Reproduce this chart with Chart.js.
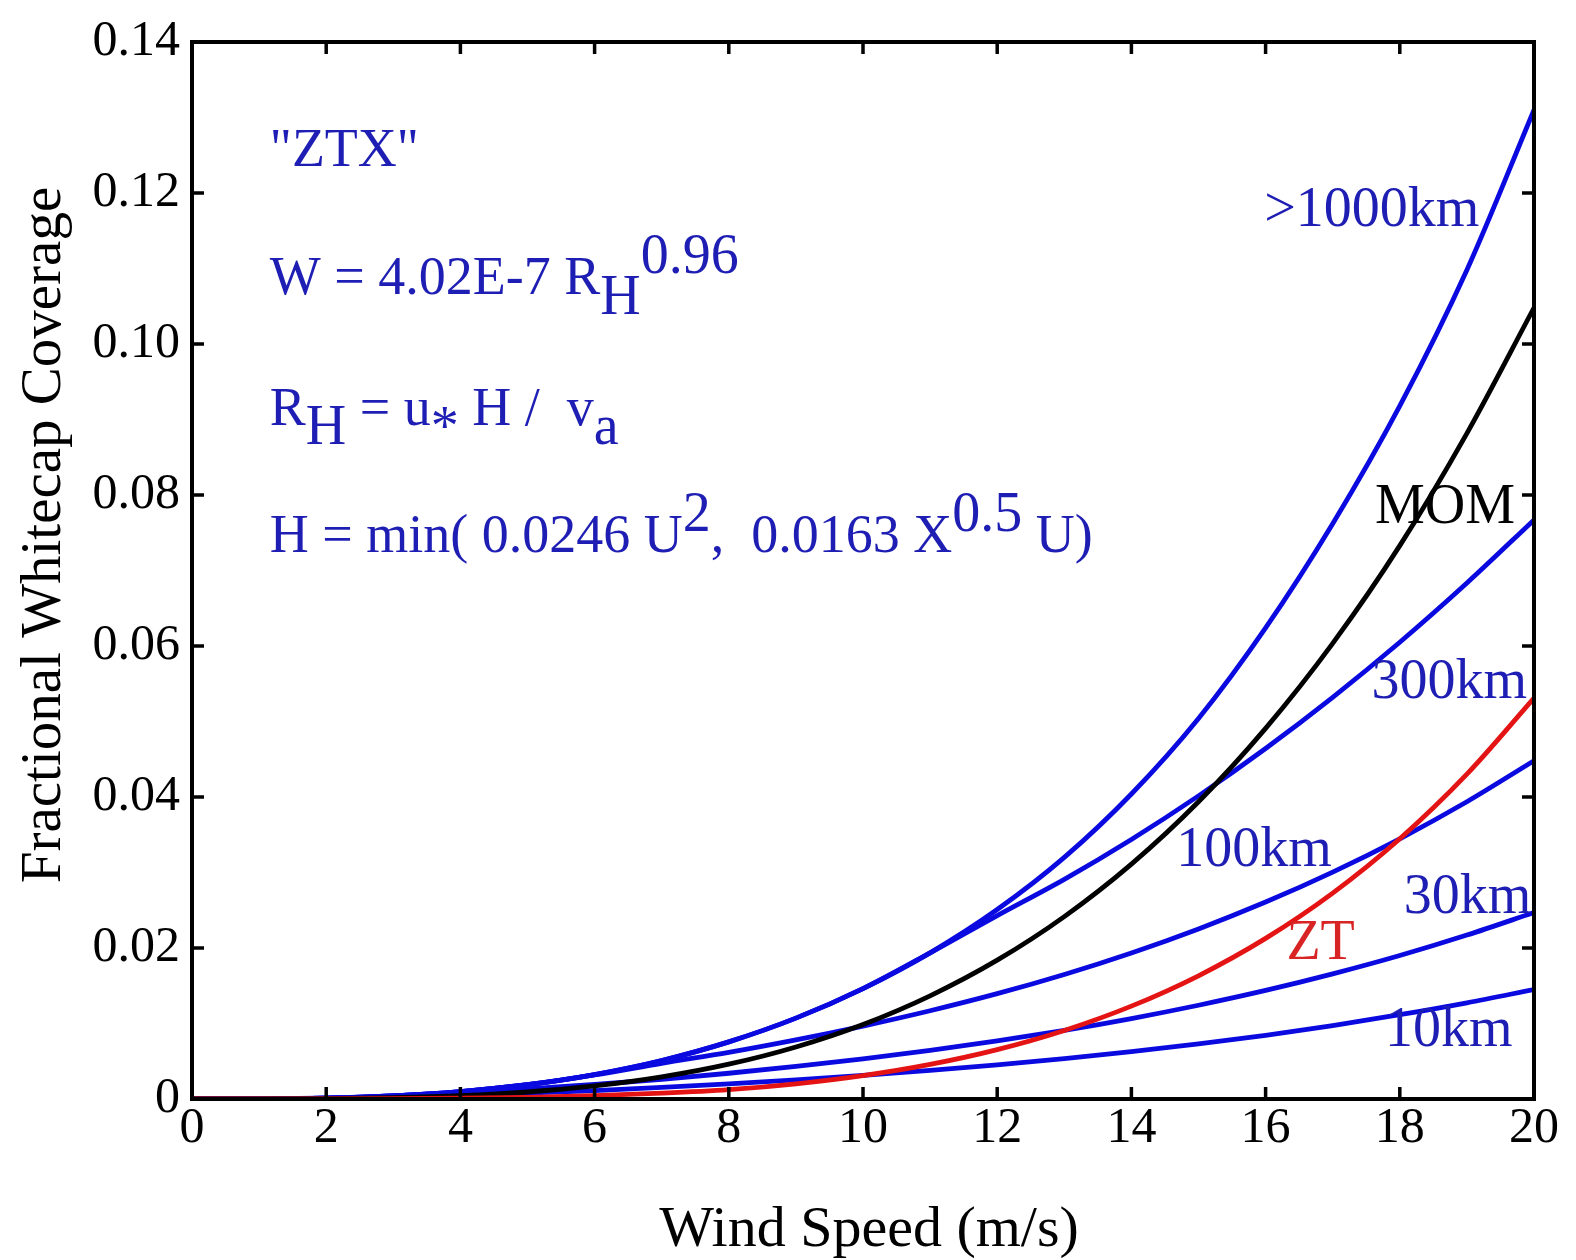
<!DOCTYPE html>
<html>
<head>
<meta charset="utf-8">
<script src="https://cdn.jsdelivr.net/npm/chart.js@4.4.1/dist/chart.umd.min.js"></script>
<style>
  html, body { margin: 0; padding: 0; background: #ffffff; }
  canvas { display: block; }
</style>
</head>
<body>
<canvas id="c" width="1576" height="1260"></canvas>
<script>
// ---- data ----
const windSpeed = [0,1,2,3,4,5,6,7,8,9,10,11,12,13,14,15,16,17,18,19,20];
const xTicks = [0,2,4,6,8,10,12,14,16,18,20];
const yTicks = [0,0.02,0.04,0.06,0.08,0.10,0.12,0.14];

const fetch1000km = [0,0.0000164,0.000127,0.000419,0.00098,0.00189,0.00324,0.0051,0.00757,0.01071,0.01462,0.01936,0.02509,0.0320,0.0404,0.0504,0.0624,0.0762,0.0918,0.1098,0.131];
const fetch300km  = [0,0.0000164,0.000127,0.000419,0.00098,0.00189,0.00324,0.0051,0.00757,0.01071,0.01462,0.01936,0.0243,0.0291,0.03438,0.04015,0.04643,0.05321,0.0605,0.06834,0.0767];
const fetch100km  = [0,0.0000164,0.000127,0.000419,0.00098,0.00189,0.00318,0.00473,0.00618,0.00783,0.00966,0.01169,0.01395,0.01649,0.01934,0.02253,0.02609,0.03006,0.03447,0.03937,0.0448];
const fetch30km   = [0,0.0000164,0.000127,0.000419,0.000851,0.00133,0.00192,0.00261,0.00341,0.00431,0.00532,0.00644,0.00769,0.00909,0.01066,0.01242,0.01438,0.01657,0.0190,0.02171,0.0247];
const fetch10km   = [0,0.0000164,0.000125,0.000281,0.0005,0.00078,0.00112,0.00153,0.0020,0.00253,0.00312,0.00378,0.00451,0.00534,0.00626,0.00729,0.00844,0.00973,0.01116,0.01274,0.0145];
const momValues   = [0,0.0000038,0.0000408,0.000163,0.000434,0.000929,0.00173,0.00293,0.00461,0.00689,0.00987,0.01367,0.01839,0.02416,0.03111,0.03937,0.04909,0.06035,0.07329,0.08817,0.1048];
const ztValues    = [0,0.0000005,0.0000084,0.0000363,0.000102,0.000228,0.00044,0.000767,0.00124,0.00201,0.0031,0.00458,0.00654,0.00908,0.0123,0.01632,0.02127,0.02727,0.03447,0.04303,0.0531];

// ---- styles ----
const BLUE_LINE = '#0a0ae0';
const BLUE_TEXT = '#1e1eb4';
const RED_LINE = '#e41414';
const RED_TEXT = '#d82424';
const SERIF = '"Liberation Serif", "Times New Roman", serif';

const toPts = (ys) => windSpeed.map((x, i) => ({x: x, y: ys[i]}));

function ds(label, ys, color) {
  return {
    label: label, data: toPts(ys), borderColor: color, backgroundColor: color,
    borderWidth: 4.8, pointRadius: 0, fill: false, cubicInterpolationMode: 'monotone'
  };
}

// curve labels placed in data space
const curveLabels = [
  {text: '>1000km', x: 15.98, y: 0.1156, color: BLUE_TEXT},
  {text: 'MOM',     x: 17.63, y: 0.0763, color: '#000000'},
  {text: '300km',   x: 17.58, y: 0.0531, color: BLUE_TEXT},
  {text: '100km',   x: 14.67, y: 0.0309, color: BLUE_TEXT},
  {text: '30km',    x: 18.06, y: 0.0246, color: BLUE_TEXT},
  {text: 'ZT',      x: 16.31, y: 0.0185, color: RED_TEXT},
  {text: '10km',    x: 17.78, y: 0.0070, color: BLUE_TEXT}
];

// formula block (segments with baseline shifts in em)
const formulaX = 1.16;
const formulaLines = [
  {y: 0.1236, segs: [{t: '"ZTX"'}]},
  {y: 0.1066, segs: [{t: 'W = 4.02E-7 R'}, {t: 'H', dy: 0.36}, {t: '0.96', dy: -0.40}]},
  {y: 0.0893, segs: [{t: 'R'}, {t: 'H', dy: 0.36}, {t: ' = u'}, {t: '*', dy: 0.38}, {t: ' H /  v'}, {t: 'a', dy: 0.36}]},
  {y: 0.0724, segs: [{t: 'H = min( 0.0246 U'}, {t: '2', dy: -0.40}, {t: ',  0.0163 X'}, {t: '0.5', dy: -0.40}, {t: ' U)'}]}
];

const decor = {
  id: 'decor',
  afterDatasetsDraw(chart) {
    const ctx = chart.ctx;
    const a = chart.chartArea;
    const xs = chart.scales.x, ys = chart.scales.y;
    ctx.save();
    // frame
    ctx.strokeStyle = '#000';
    ctx.lineWidth = 4;
    ctx.strokeRect(a.left, a.top, a.right - a.left, a.bottom - a.top);
    // inward ticks
    const TL = 12;
    ctx.lineWidth = 3.5;
    ctx.beginPath();
    xTicks.forEach(v => {
      const px = xs.getPixelForValue(v);
      ctx.moveTo(px, a.bottom); ctx.lineTo(px, a.bottom - TL);
      ctx.moveTo(px, a.top); ctx.lineTo(px, a.top + TL);
    });
    yTicks.forEach(v => {
      const py = ys.getPixelForValue(v);
      ctx.moveTo(a.left, py); ctx.lineTo(a.left + TL, py);
      ctx.moveTo(a.right, py); ctx.lineTo(a.right - TL, py);
    });
    ctx.stroke();

    // curve labels
    ctx.font = '56px ' + SERIF;
    ctx.textAlign = 'left';
    ctx.textBaseline = 'alphabetic';
    curveLabels.forEach(l => {
      ctx.fillStyle = l.color;
      ctx.fillText(l.text, xs.getPixelForValue(l.x), ys.getPixelForValue(l.y));
    });

    // formula block
    const fs = 54;
    ctx.fillStyle = BLUE_TEXT;
    formulaLines.forEach(line => {
      let px = xs.getPixelForValue(formulaX);
      const py = ys.getPixelForValue(line.y);
      line.segs.forEach(s => {
        const big = s.dy ? 1.04 : 1;
        ctx.font = Math.round(fs * big) + 'px ' + SERIF;
        ctx.fillText(s.t, px, py + (s.dy || 0) * fs);
        px += ctx.measureText(s.t).width;
      });
    });

    // axis titles
    ctx.fillStyle = '#000';
    ctx.font = '58px ' + SERIF;
    ctx.textAlign = 'center';
    ctx.fillText('Wind Speed (m/s)', 869, 1246);
    ctx.font = '57px ' + SERIF;
    ctx.save();
    ctx.translate(60, 535);
    ctx.rotate(-Math.PI / 2);
    ctx.fillText('Fractional Whitecap Coverage', 0, 0);
    ctx.restore();
    ctx.restore();
  }
};

new Chart(document.getElementById('c'), {
  type: 'line',
  data: {
    datasets: [
      ds('ZT', ztValues, RED_LINE),
      ds('MOM', momValues, '#000000'),
      ds('>1000km', fetch1000km, BLUE_LINE),
      ds('300km', fetch300km, BLUE_LINE),
      ds('100km', fetch100km, BLUE_LINE),
      ds('30km', fetch30km, BLUE_LINE),
      ds('10km', fetch10km, BLUE_LINE)
    ]
  },
  options: {
    responsive: false,
    devicePixelRatio: 1,
    animation: false,
    events: [],
    layout: { padding: { top: 41, right: 42, bottom: 0, left: 0 } },
    plugins: { legend: { display: false }, tooltip: { enabled: false }, title: { display: false } },
    scales: {
      x: {
        type: 'linear', min: 0, max: 20,
        afterFit(s) { s.height = 161; },
        afterBuildTicks(s) { s.ticks = xTicks.map(v => ({value: v})); },
        grid: { display: false, drawTicks: false },
        border: { display: false },
        ticks: { color: '#000', font: { family: SERIF, size: 50 }, padding: 0, maxRotation: 0, autoSkip: false,
                 callback: v => String(v) }
      },
      y: {
        type: 'linear', min: 0, max: 0.14,
        afterFit(s) { s.width = 192; },
        afterBuildTicks(s) { s.ticks = yTicks.map(v => ({value: v})); },
        grid: { display: false, drawTicks: false },
        border: { display: false },
        ticks: { color: '#000', font: { family: SERIF, size: 50 }, padding: 12, autoSkip: false,
                 callback: v => (v === 0 ? '0' : v.toFixed(2)) }
      }
    }
  },
  plugins: [decor]
});
</script>
</body>
</html>
